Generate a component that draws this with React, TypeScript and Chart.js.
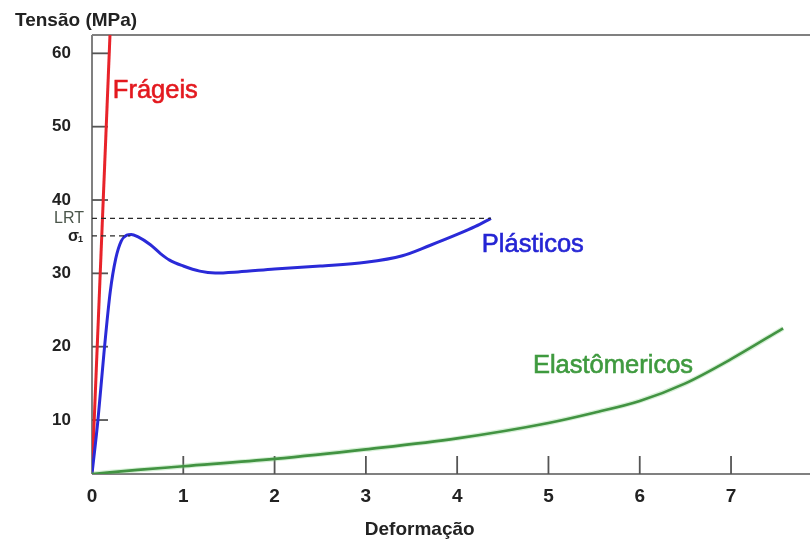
import React, { useEffect, useRef } from "react";
import { Chart, registerables } from "chart.js";

Chart.register(...registerables);

// ---- data ----
const xTicks = [0, 1, 2, 3, 4, 5, 6, 7];
const yTicks = [10, 20, 30, 40, 50, 60];

const frageisStrain = [0, 0.197];
const frageisStress = [2.64, 62.5];

const plasticStrain = [0, 0.065, 0.13, 0.2, 0.26, 0.32, 0.38, 0.43, 0.5, 0.64, 0.75, 0.85, 1.0, 1.18, 1.35, 1.6, 2.0, 2.5, 3.0, 3.4, 3.7, 4.0, 4.2, 4.37];
const plasticStress = [2.64, 10, 19, 27.5, 32, 34.4, 35.2, 35.3, 35.0, 33.9, 32.7, 31.8, 31.0, 30.3, 30.05, 30.2, 30.6, 31.0, 31.5, 32.4, 33.8, 35.3, 36.4, 37.5];

const elastStrain = [0, 0.5, 1, 2, 3, 4, 5, 5.5, 6, 6.5, 7, 7.57];
const elastStress = [2.64, 3.2, 3.7, 4.7, 6.0, 7.5, 9.6, 11.0, 12.6, 15.0, 18.3, 22.5];

const lrtStress = 37.5;
const lrtStrain = [0, 4.37];
const sigma1Stress = 35.1;
const sigma1Strain = [0, 0.42];

const curveNames = ["Frágeis", "Plásticos", "Elastômericos"];
const curveColors = ["#e3191f", "#2525d4", "#3f9a3f"];
const nameStrain = [0.228, 4.27, 4.83];
const nameStress = [53.9, 32.95, 16.36];

const xTitle = "Deformação";
const yTitle = "Tensão (MPa)";

const X_MIN = 0;
const X_MAX = 7.865;
const Y_MIN = 2.64;
const Y_MAX = 62.5;

const FONT = "'Liberation Sans', Arial, Helvetica, sans-serif";
const NARROW = "'Liberation Sans Narrow', 'Liberation Sans', Arial, sans-serif";

const pts = (xs: number[], ys: number[]) => xs.map((x, i) => ({ x, y: ys[i] }));

const decor = {
  id: "decor",
  beforeDatasetsDraw(chart: any) {
    const { ctx, chartArea, scales } = chart;
    const { left, right, top, bottom } = chartArea;
    const x = scales.x;
    const y = scales.y;
    const line = (x1: number, y1: number, x2: number, y2: number) => {
      ctx.beginPath();
      ctx.moveTo(x1, y1);
      ctx.lineTo(x2, y2);
      ctx.stroke();
    };
    ctx.save();
    ctx.strokeStyle = "#808080";
    ctx.lineWidth = 2;
    line(left, top, right, top);
    line(left, top, left, bottom);
    line(left, bottom, right, bottom);
    ctx.strokeStyle = "#555";
    ctx.lineWidth = 1.8;
    yTicks.forEach((v) => {
      const py = y.getPixelForValue(v);
      line(left, py, left + 16, py);
    });
    xTicks.slice(1).forEach((v) => {
      const px = x.getPixelForValue(v);
      line(px, bottom, px, bottom - 18);
    });
    ctx.restore();
  },
  afterDatasetsDraw(chart: any) {
    const { ctx, scales } = chart;
    const x = scales.x;
    const y = scales.y;
    ctx.save();
    ctx.textBaseline = "alphabetic";
    // curve names
    ctx.textAlign = "left";
    ctx.font = `25.5px ${FONT}`;
    ctx.lineWidth = 0.6;
    curveNames.forEach((n, i) => {
      ctx.fillStyle = curveColors[i];
      ctx.strokeStyle = curveColors[i];
      const px = x.getPixelForValue(nameStrain[i]);
      const py = y.getPixelForValue(nameStress[i]);
      ctx.fillText(n, px, py);
      ctx.strokeText(n, px, py);
    });
    // axis titles
    ctx.fillStyle = "#222";
    ctx.font = `bold 19px ${FONT}`;
    ctx.fillText(yTitle, 15, 26);
    ctx.textAlign = "center";
    ctx.fillText(xTitle, x.getPixelForValue(3.59), 535);
    // LRT & sigma1 labels
    ctx.textAlign = "left";
    ctx.fillStyle = "#4a554a";
    ctx.font = `16px ${FONT}`;
    ctx.fillText("LRT", 54, y.getPixelForValue(lrtStress) + 5);
    ctx.fillStyle = "#222";
    ctx.font = `bold 16px ${FONT}`;
    const sy = y.getPixelForValue(sigma1Stress) + 5;
    ctx.fillText("σ", 68, sy);
    ctx.font = `bold 9px ${FONT}`;
    ctx.fillText("1", 78, sy + 1);
    ctx.restore();
  },
};

export default function App() {
  const ref = useRef<HTMLCanvasElement | null>(null);
  useEffect(() => {
    if (!ref.current) return;
    const chart = new Chart(ref.current, {
      type: "scatter",
      data: {
        datasets: [
          {
            data: pts(lrtStrain, [lrtStress, lrtStress]),
            showLine: true,
            borderColor: "#2a2a2a",
            borderWidth: 1.3,
            borderDash: [5, 4],
            pointRadius: 0,
          },
          {
            data: pts(sigma1Strain, [sigma1Stress, sigma1Stress]),
            showLine: true,
            borderColor: "#2a2a2a",
            borderWidth: 1.3,
            borderDash: [5, 4],
            pointRadius: 0,
          },
          {
            data: pts(elastStrain, elastStress),
            showLine: true,
            borderColor: "rgba(120,205,120,0.3)",
            borderWidth: 5,
            pointRadius: 0,
            cubicInterpolationMode: "monotone",
          },
          {
            data: pts(elastStrain, elastStress),
            showLine: true,
            borderColor: "#2b7a2b",
            borderWidth: 2.6,
            pointRadius: 0,
            cubicInterpolationMode: "monotone",
          },
          {
            data: pts(plasticStrain, plasticStress),
            showLine: true,
            borderColor: "#2a2ad8",
            borderWidth: 3,
            pointRadius: 0,
            cubicInterpolationMode: "monotone",
          },
          {
            data: pts(frageisStrain, frageisStress),
            showLine: true,
            borderColor: "#e8232a",
            borderWidth: 3,
            pointRadius: 0,
          },
        ],
      },
      options: {
        responsive: false,
        animation: false,
        events: [],
        layout: { padding: { top: 35, right: 0, left: 0, bottom: 0 } },
        plugins: { legend: { display: false }, tooltip: { enabled: false }, title: { display: false } },
        scales: {
          x: {
            type: "linear",
            min: X_MIN,
            max: X_MAX,
            afterBuildTicks: (s: any) => {
              s.ticks = xTicks.map((v) => ({ value: v }));
            },
            afterFit: (s: any) => {
              s.height = 69;
            },
            grid: { display: false, drawTicks: false },
            border: { display: false },
            ticks: {
              padding: 11,
              autoSkip: false,
              maxRotation: 0,
              color: "#222",
              font: { family: NARROW, size: 19, weight: "bold" },
            },
          },
          y: {
            type: "linear",
            min: Y_MIN,
            max: Y_MAX,
            afterBuildTicks: (s: any) => {
              s.ticks = yTicks.map((v) => ({ value: v }));
            },
            afterFit: (s: any) => {
              s.width = 92;
            },
            grid: { display: false, drawTicks: false },
            border: { display: false },
            ticks: {
              padding: 21,
              autoSkip: false,
              color: "#222",
              font: { family: FONT, size: 17, weight: "bold" },
            },
          },
        },
      },
      plugins: [decor],
    } as any);
    return () => chart.destroy();
  }, []);
  return (
    <div style={{ position: "absolute", left: 0, top: 0, width: 810, height: 543, background: "#fff" }}>
      <canvas ref={ref} width={810} height={543} style={{ width: 810, height: 543, display: "block" }} />
    </div>
  );
}
